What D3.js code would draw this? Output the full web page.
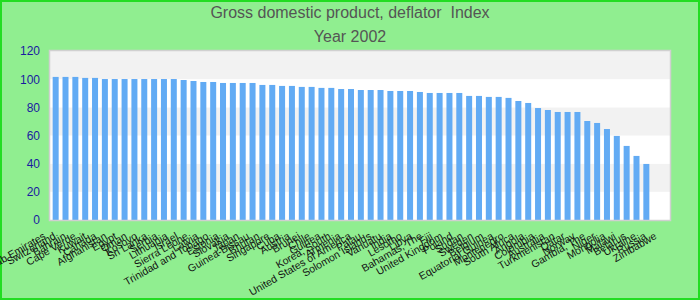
<!DOCTYPE html>
<html>
<head>
<meta charset="utf-8">
<script src="https://cdn.jsdelivr.net/npm/d3@7"></script>
<style>
  body { margin: 0; }
  svg { display: block; font-family: "Liberation Sans", Arial, sans-serif; }
</style>
</head>
<body>
<div id="chart"></div>
<script>
// Data
const titleLine1 = "Gross domestic product, deflator  Index";
const titleLine2 = "Year 2002";

const countries = [
  "United Arab Emirates", "Switzerland", "Bahrain", "Cape Verde", "Kuwait",
  "Canada", "Afghanistan", "Egypt", "Oman", "Kosovo",
  "Sri Lanka", "Serbia", "Lithuania", "Israel", "Sierra Leone",
  "Latvia", "Trinidad and Tobago", "Estonia", "Slovakia", "Japan",
  "Guinea-Bissau", "Bhutan", "Singapore", "Cuba", "Austria",
  "Brunei", "Chile", "Guinea", "Korea, South", "Armenia",
  "United States of America", "Palau", "Solomon Islands", "Vanuatu", "India",
  "Lesotho", "Libya", "Bahamas, The", "Fiji", "United Kingdom",
  "Poland", "Sudan", "Sweden", "Belgium", "Equatorial Guinea",
  "Montenegro", "South Africa", "Angola", "Colombia", "Australia",
  "Turkmenistan", "Qatar", "Norway", "Gambia, The", "Niger",
  "Mongolia", "Malawi", "Belarus", "Ukraine", "Russia",
  "Zimbabwe"
];

const values = [
  101.6, 101.6, 101.6, 100.9, 100.9,
  100.1, 100.1, 100.1, 100.1, 100.1,
  100.1, 100.1, 100.1, 99.4, 98.7,
  98.0, 98.0, 97.3, 97.3, 97.3,
  97.3, 95.9, 95.9, 95.2, 95.2,
  94.5, 94.5, 93.8, 93.8, 93.0,
  93.0, 92.3, 92.3, 92.3, 91.6,
  91.6, 91.6, 90.9, 90.2, 90.2,
  90.2, 90.2, 88.1, 88.1, 87.4,
  87.4, 86.7, 84.5, 83.1, 79.5,
  78.1, 76.7, 76.7, 76.7, 70.3,
  68.9, 64.6, 59.7, 52.6, 45.5,
  39.8
];

const yTicks = [0, 20, 40, 60, 80, 100, 120];

const data = countries.map((c, i) => ({ name: c, value: values[i] }));

// Layout
const W = 700, H = 300;
const margin = { top: 51, right: 30, bottom: 80, left: 50 };
const width = W - margin.left - margin.right;
const height = H - margin.top - margin.bottom;

const svg = d3.select("#chart")
  .append("svg")
    .attr("width", W)
    .attr("height", H);

// Background and outer border
svg.append("rect")
  .attr("x", 1).attr("y", 1)
  .attr("width", W - 2).attr("height", H - 2)
  .attr("fill", "#90ee90")
  .attr("stroke", "#22dd22")
  .attr("stroke-width", 2);

// Titles
svg.append("text")
  .attr("x", W / 2).attr("y", 18)
  .attr("text-anchor", "middle")
  .style("font-size", "16px")
  .style("white-space", "pre")
  .style("fill", "#555")
  .text(titleLine1);

svg.append("text")
  .attr("x", W / 2).attr("y", 42)
  .attr("text-anchor", "middle")
  .style("font-size", "16px")
  .style("fill", "#555")
  .text(titleLine2);

const g = svg.append("g")
  .attr("transform", "translate(" + margin.left + "," + margin.top + ")");

// Scales
const y = d3.scaleLinear()
  .domain([0, 120])
  .range([height, 0]);

const x = d3.scaleBand()
  .domain(countries)
  .range([0, 602])
  .paddingInner(0.39)
  .paddingOuter(0.27);

// labels sit on a slightly wider spread than the bars
const xLabel = d3.scalePoint()
  .domain(countries)
  .range([-6, width - 15]);

// Plot area with alternating bands
g.append("rect")
  .attr("width", width).attr("height", height)
  .attr("fill", "#fff");

const bands = d3.pairs(yTicks);
g.selectAll(".band")
  .data(bands)
  .join("rect")
    .attr("class", "band")
    .attr("x", 0)
    .attr("y", d => y(d[1]))
    .attr("width", width)
    .attr("height", d => y(d[0]) - y(d[1]))
    .attr("fill", (d, i) => i % 2 === 1 ? "#f2f2f2" : "#fff");

// Bars
g.selectAll(".bar")
  .data(data)
  .join("rect")
    .attr("class", "bar")
    .attr("x", d => x(d.name))
    .attr("y", d => y(d.value))
    .attr("width", x.bandwidth())
    .attr("height", d => height - y(d.value))
    .attr("fill", "#62abf4");

// Plot border
g.append("rect")
  .attr("x", -0.5).attr("y", -0.5)
  .attr("width", width + 1).attr("height", height + 1)
  .attr("fill", "none")
  .attr("stroke", "#d0d0d0")
  .attr("stroke-width", 1.5);

// Y axis
const yAxis = g.append("g")
  .attr("transform", "translate(-10,0)")
  .call(d3.axisLeft(y).tickValues(yTicks).tickSize(0).tickPadding(0));
yAxis.select(".domain").remove();
yAxis.selectAll("text")
  .style("font-size", "12px")
  .style("font-family", "Liberation Sans, Arial, sans-serif")
  .style("fill", "#1a1aa0");

// X axis labels
const xAxis = g.append("g")
  .attr("transform", "translate(0," + height + ")")
  .call(d3.axisBottom(xLabel).tickSize(0).tickPadding(0));
xAxis.select(".domain").remove();
xAxis.selectAll("text")
  .attr("y", 0)
  .attr("text-anchor", "end")
  .attr("dy", "0.35em")
  .attr("transform", "translate(0,15) rotate(-30)")
  .style("font-size", "10.5px")
  .style("font-family", "Liberation Sans, Arial, sans-serif")
  .style("fill", "#111");
</script>
</body>
</html>
